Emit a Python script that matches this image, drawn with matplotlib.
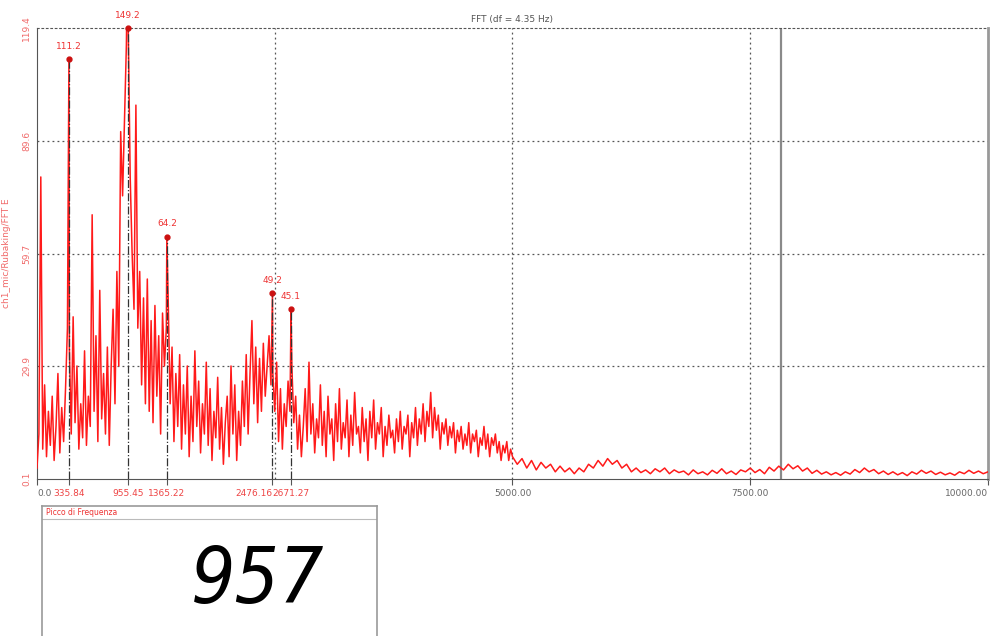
import numpy as np
import matplotlib
matplotlib.use("Agg")
import matplotlib.pyplot as plt

# ---------------- data ----------------
# spectrum amplitudes, 20 Hz step from 0 Hz to 4980 Hz
amp_0_1k = [3, 12, 80, 8, 25, 6, 18, 9, 22, 5, 14, 28, 7, 19, 10, 24, 40, 35, 12, 43,
            15, 30, 8, 20, 11, 34, 9, 22, 14, 70, 18, 38, 10, 50, 16, 28, 12, 35, 9, 30,
            45, 20, 55, 30, 92, 75, 95, 115, 118, 80]
amp_1k_2k = [60, 45, 99, 40, 55, 25, 48, 20, 53, 18, 42, 15, 46, 22, 38, 12, 44, 30, 40, 47,
             20, 35, 10, 28, 14, 33, 8, 25, 12, 30, 6, 22, 10, 34, 14, 26, 7, 20, 12, 31,
             9, 24, 5, 18, 11, 27, 8, 19, 4, 15]
amp_2k_3k = [22, 6, 30, 12, 25, 5, 18, 9, 26, 14, 33, 12, 28, 42, 20, 35, 15, 32, 18, 36,
             22, 30, 38, 25, 28, 18, 31, 10, 24, 8, 20, 14, 26, 18, 30, 15, 22, 8, 17, 6,
             14, 24, 10, 31, 12, 20, 7, 16, 11, 25]
amp_3k_4k = [9, 18, 6, 22, 12, 16, 5, 20, 10, 24, 8, 15, 11, 21, 6, 17, 9, 23, 12, 14,
             7, 19, 10, 16, 5, 18, 11, 21, 8, 15, 12, 19, 6, 14, 9, 17, 11, 13, 7, 16,
             10, 18, 8, 14, 12, 17, 6, 15, 11, 19]
amp_4k_5k = [9, 16, 12, 20, 10, 18, 14, 23, 11, 19, 13, 17, 8, 15, 12, 16, 9, 14, 11, 15,
             7, 13, 10, 14, 8, 12, 9, 15, 7, 12, 10, 13, 6, 11, 9, 14, 8, 12, 6, 11,
             9, 12, 7, 10, 5, 9, 7, 10, 5, 8]
# 50 Hz step from 5000 Hz to 10000 Hz
amp_5k_10k = [6, 4, 5.5, 3, 5, 2.5, 4.5, 3, 4, 2, 3.5, 2, 3, 1.5, 3, 2, 4, 3, 5, 3.5,
              5.5, 4, 5, 3, 4, 2, 3, 1.8, 2.5, 1.5, 2.8, 2, 3, 1.5, 2.5, 1.8, 2.2, 1.2, 2.5, 1.5,
              2, 1.2, 2.4, 1.6, 2.8, 1.5, 2.2, 1.3, 2.5, 2, 3, 1.8, 2.6, 1.5, 3.2, 2.2, 3.5, 2.5, 4, 2.8,
              3.6, 2.2, 3, 1.6, 2.4, 1.4, 2, 1.2, 1.8, 1.1, 2, 1.4, 2.6, 1.8, 3, 2, 2.6, 1.5, 2.2, 1.3,
              2, 1.2, 1.8, 1, 2, 1.4, 2.4, 1.6, 2.2, 1.3, 1.9, 1.2, 1.7, 1.1, 2, 1.5, 2.4, 1.6, 2.2, 1.5,
              2]

peak_freqs = [335.84, 955.45, 1365.22, 2476.16, 2671.27]
peak_vals = [111.2, 149.2, 64.2, 49.2, 45.1]
peak_labels = ["111.2", "149.2", "64.2", "49.2", "45.1"]
peak_tick_labels = ["335.84", "955.45", "1365.22", "2476.16", "2671.27"]

main_xticks = [0, 5000, 7500, 10000]
main_xtick_labels = ["0.0", "5000.00", "7500.00", "10000.00"]
grid_x = [2500, 5000, 7500]
y_ticks = [0.1, 29.9, 59.7, 89.6, 119.4]
y_tick_labels = ["0.1", "29.9", "59.7", "89.6", "119.4"]
cursor_freq = 7820
display_value = "957"
title_text = "FFT (df = 4.35 Hz)"
ylabel_text = "ch1_mic/Rubaking/FFT E"
panel_title = "Picco di Frequenza"

# ---------------- build spectrum ----------------
low_amp = amp_0_1k + amp_1k_2k + amp_2k_3k + amp_3k_4k + amp_4k_5k
low_f = np.arange(len(low_amp)) * 20.0
high_f = 5000.0 + np.arange(len(amp_5k_10k)) * 50.0
f_all = np.concatenate([low_f, high_f, peak_freqs])
a_all = np.concatenate([low_amp, amp_5k_10k, peak_vals])
order = np.argsort(f_all, kind="stable")
f_all, a_all = f_all[order], a_all[order]

W, H = 995, 636
fig = plt.figure(figsize=(W / 100, H / 100), dpi=100)
fig.patch.set_facecolor("white")

ymin, ymax = y_ticks[0], y_ticks[-1]
ax = fig.add_axes([37 / W, 1 - 479 / H, (988 - 37) / W, (479 - 28) / H])
ax.plot(f_all, a_all, color="#ff1a1a", lw=1.1, zorder=3)
ax.set_xlim(0, 10000)
ax.set_ylim(ymin, ymax)

# grid
for y in y_ticks[1:-1]:
    ax.axhline(y, color="#555555", ls=(0, (1.5, 2.5)), lw=0.9, zorder=1)
for x in grid_x:
    ax.axvline(x, color="#555555", ls=(0, (1.5, 2.5)), lw=0.9, zorder=1)
ax.axvline(cursor_freq, color="#8a8a8a", lw=1.6, zorder=2)

# spines
ax.spines["top"].set_linestyle((0, (1.5, 2.5)))
ax.spines["top"].set_color("#555555")
ax.spines["left"].set_color("#555555")
ax.spines["bottom"].set_color("#555555")
ax.spines["right"].set_color("#999999")
ax.spines["right"].set_linewidth(2)

# peak markers
for f, v, lab in zip(peak_freqs, peak_vals, peak_labels):
    top = min(v, ymax)
    ax.vlines(f, ymin, top, colors="#333333", linestyles="-.", lw=0.9, zorder=4)
    ax.plot([f], [top], marker="o", ms=3.5, color="#cc1010", clip_on=False, zorder=5)
    ax.annotate(lab, (f, top), xytext=(0, 6), textcoords="offset points",
                ha="center", va="bottom", fontsize=6.5, color="#ee3333",
                annotation_clip=False)

# ticks
xt = main_xticks[:1] + peak_freqs + main_xticks[1:]
xl = main_xtick_labels[:1] + peak_tick_labels + main_xtick_labels[1:]
ax.set_xticks(xt, xl)
ax.tick_params(axis="x", length=4, width=0.8, color="#555555", labelsize=6.5, pad=3)
for t in ax.get_xticklabels():
    txt = t.get_text()
    if txt in peak_tick_labels:
        t.set_color("#ee4444")
    else:
        t.set_color("#666666")
    if txt == peak_tick_labels[3]:
        t.set_ha("right")
    elif txt == main_xtick_labels[0]:
        t.set_ha("left")
    elif txt == main_xtick_labels[-1]:
        t.set_ha("right")
ax.set_yticks(y_ticks, y_tick_labels)
ax.tick_params(axis="y", length=0, labelsize=6.5, labelcolor="#f06a6a", pad=4)
for t in ax.get_yticklabels():
    t.set_rotation(90)
    t.set_va("center")
ax.set_ylabel(ylabel_text, color="#f06a6a", fontsize=6.5, labelpad=8)
ax.set_title(title_text, fontsize=6.5, color="#555555", pad=4)

# ---------------- value panel ----------------
bottom = -0.01
top_f = 1 - 506 / H
ax2 = fig.add_axes([42 / W, bottom, (377 - 42) / W, top_f - bottom])
ax2.set_xticks([])
ax2.set_yticks([])
ax2.set_xlim(0, 1)
ax2.set_ylim(0, 1)
for s in ax2.spines.values():
    s.set_color("#9a9a9a")
    s.set_linewidth(1.2)
hdr = ((1 - 519 / H) - bottom) / (top_f - bottom)
ax2.axhline(hdr, color="#bbbbbb", lw=0.8)
ax2.text(0.012, (1 + hdr) / 2, panel_title, color="#ee3333", fontsize=5.5,
         ha="left", va="center")
ax2.text(0.645, 0.45, display_value, fontsize=56, style="italic",
         color="black", ha="center", va="center",
         family=["DejaVu Sans"], fontstretch="condensed")

fig.savefig("out.png", dpi=100)
